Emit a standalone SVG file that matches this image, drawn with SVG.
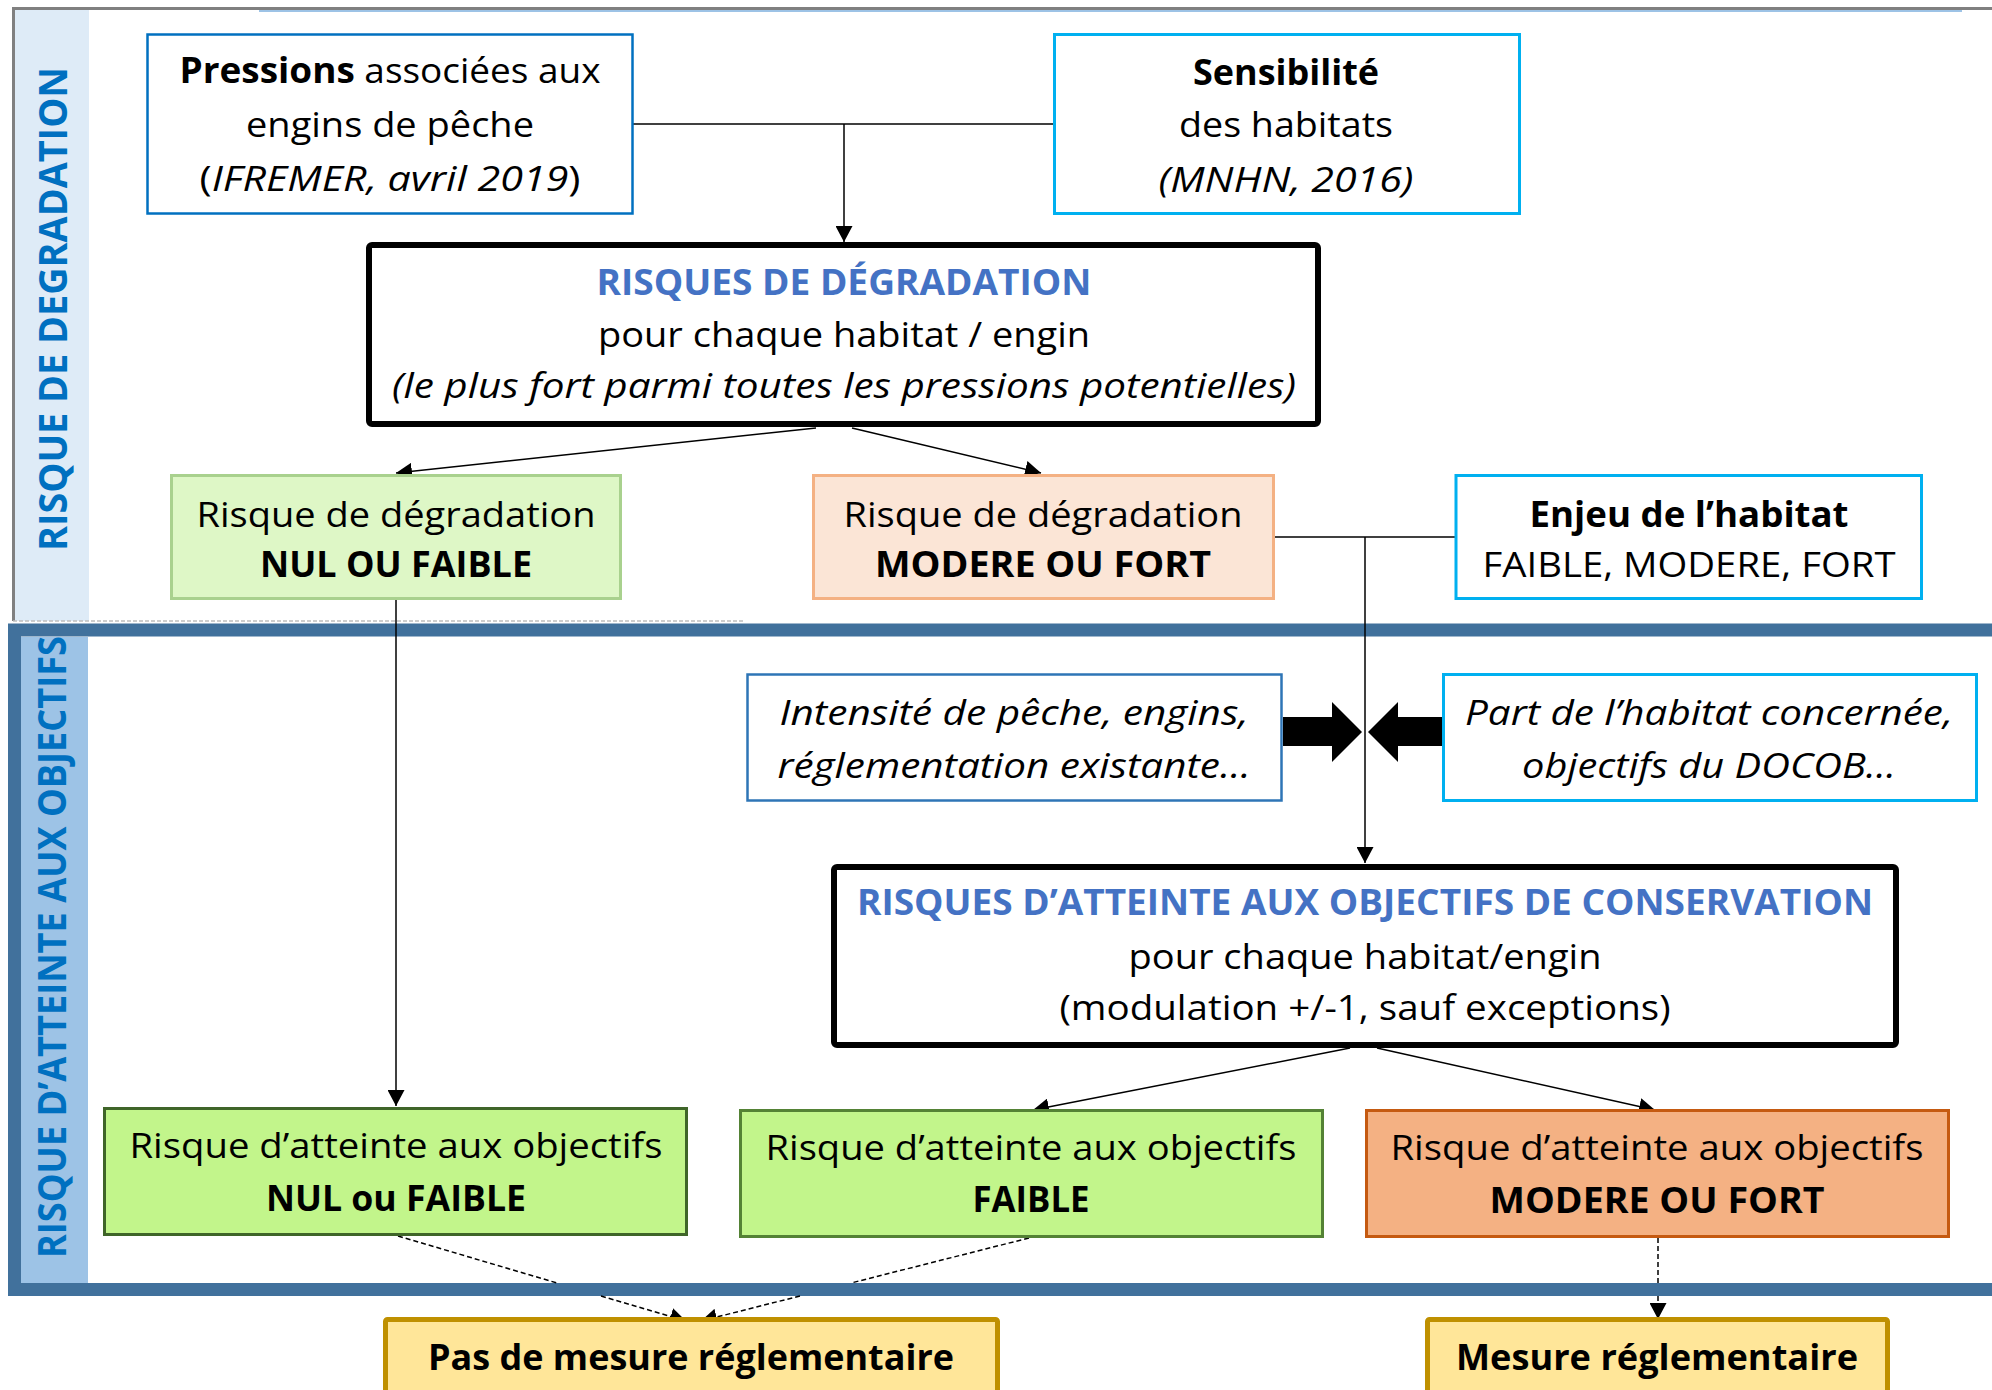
<svg xmlns="http://www.w3.org/2000/svg" width="1992" height="1390" viewBox="0 0 1992 1390">
<style>
text{font-family:"Open Sans","Noto Sans","Liberation Sans",sans-serif;font-size:35px;fill:#000;text-anchor:middle}
.b{font-weight:bold}
.i{font-style:italic}
.t{font-weight:bold;fill:#4472C4}
.lbl{font-family:"Open Sans","DejaVu Sans",sans-serif;font-weight:bold;font-size:39px;fill:#0070C0}
.ln{fill:none;stroke:#000;stroke-width:1.5}
.dl{fill:none;stroke:#000;stroke-width:1.5;stroke-dasharray:5 3}
.bx{stroke-width:3}
</style>
<defs>
<marker id="ah" markerUnits="userSpaceOnUse" markerWidth="17" markerHeight="17" refX="16" refY="8.5" orient="auto">
<path d="M0,0 L16,8.5 L0,17 z" fill="#000"/>
</marker>
</defs>
<rect width="1992" height="1390" fill="#fff"/>
<g id="section-degradation">
<rect x="14" y="10" width="75" height="611" fill="#DEEBF7"/>
<path d="M2010 8.5 H13.5 V621" fill="none" stroke="#808080" stroke-width="3"/>
<line x1="259" y1="11" x2="1962" y2="11" stroke="#9DC3E6" stroke-width="2"/>
<line x1="13" y1="621" x2="745" y2="621" stroke="#BFBFBF" stroke-width="1.5" stroke-dasharray="4 2"/>
<text class="lbl" transform="translate(67,309) rotate(-90)" textLength="484" lengthAdjust="spacingAndGlyphs">RISQUE DE DEGRADATION</text>
</g>
<g id="section-atteinte">
<rect x="21" y="637" width="67" height="646" fill="#9DC3E6"/>
<path d="M2010 630 H14.5 V1289.5 H2010" fill="none" stroke="#41719C" stroke-width="13"/>
<text class="lbl" transform="translate(66,947) rotate(-90)" textLength="622" lengthAdjust="spacingAndGlyphs">RISQUE D’ATTEINTE AUX OBJECTIFS</text>
</g>
<g id="connectors">
<path class="ln" d="M633 124 H1053"/>
<path class="ln" d="M844 124 V242" marker-end="url(#ah)"/>
<path class="ln" d="M816 428 L396 473" marker-end="url(#ah)"/>
<path class="ln" d="M852 428 L1041 473" marker-end="url(#ah)"/>
<path class="ln" d="M1275 537 H1455"/>
<path class="ln" d="M1365 537 V863" marker-end="url(#ah)"/>
<path class="ln" d="M396 600 V1106" marker-end="url(#ah)"/>
<path class="ln" d="M1350 1048 L1033 1110" marker-end="url(#ah)"/>
<path class="ln" d="M1377 1048 L1655 1110" marker-end="url(#ah)"/>
<path class="dl" d="M398 1236 L557 1283 M601 1296 L686 1321" marker-end="url(#ah)"/>
<path class="dl" d="M1029 1238 L851 1283 M800 1296 L701 1321" marker-end="url(#ah)"/>
<path class="dl" d="M1658 1238 V1283 M1658 1296 V1319" stroke-dasharray="8 5" marker-end="url(#ah)"/>
<polygon points="1283,717 1332,717 1332,702 1362,732 1332,762 1332,746 1283,746" fill="#000"/>
<polygon points="1443,717 1398,717 1398,702 1368,732 1398,762 1398,746 1443,746" fill="#000"/>
</g>
<g id="node-pressions">
<rect x="147.5" y="34.5" width="485" height="179" fill="#fff" stroke="#0070C0" stroke-width="2.5"/>
<text x="390" y="83" textLength="421" lengthAdjust="spacingAndGlyphs"><tspan class="b">Pressions</tspan> associées aux</text>
<text x="390" y="137" textLength="288" lengthAdjust="spacingAndGlyphs">engins de pêche</text>
<text x="390" y="191" textLength="381" lengthAdjust="spacingAndGlyphs">(<tspan class="i">IFREMER, avril 2019</tspan>)</text>
</g>
<g id="node-sensibilite">
<rect x="1054.5" y="34.5" width="465" height="179" fill="#fff" stroke="#00B0F0" class="bx"/>
<text class="b" x="1286" y="85" textLength="186" lengthAdjust="spacingAndGlyphs">Sensibilité</text>
<text x="1286" y="137" textLength="214" lengthAdjust="spacingAndGlyphs">des habitats</text>
<text class="i" x="1286" y="192" textLength="255" lengthAdjust="spacingAndGlyphs">(MNHN, 2016)</text>
</g>
<g id="node-risques-degradation">
<rect x="369" y="245" width="949" height="179" rx="3" fill="#fff" stroke="#000" stroke-width="6"/>
<text class="t" x="844" y="295" textLength="495" lengthAdjust="spacingAndGlyphs">RISQUES DE DÉGRADATION</text>
<text x="844" y="347" textLength="492" lengthAdjust="spacingAndGlyphs">pour chaque habitat / engin</text>
<text class="i" x="844" y="398" textLength="904" lengthAdjust="spacingAndGlyphs">(le plus fort parmi toutes les pressions potentielles)</text>
</g>
<g id="node-degradation-nul">
<rect x="171.5" y="475.5" width="449" height="123" fill="#DEF7C6" stroke="#A9D18E" class="bx"/>
<text x="396" y="527" textLength="399" lengthAdjust="spacingAndGlyphs">Risque de dégradation</text>
<text class="b" x="396" y="577" textLength="272" lengthAdjust="spacingAndGlyphs">NUL OU FAIBLE</text>
</g>
<g id="node-degradation-fort">
<rect x="813.5" y="475.5" width="460" height="123" fill="#FBE5D6" stroke="#F4B183" class="bx"/>
<text x="1043" y="527" textLength="399" lengthAdjust="spacingAndGlyphs">Risque de dégradation</text>
<text class="b" x="1043" y="577" textLength="336" lengthAdjust="spacingAndGlyphs">MODERE OU FORT</text>
</g>
<g id="node-enjeu">
<rect x="1456" y="475.5" width="465.5" height="123" fill="#fff" stroke="#00B0F0" class="bx"/>
<text class="b" x="1689" y="527" textLength="319" lengthAdjust="spacingAndGlyphs">Enjeu de l’habitat</text>
<text x="1689" y="577" textLength="413" lengthAdjust="spacingAndGlyphs">FAIBLE, MODERE, FORT</text>
</g>
<g id="node-intensite">
<rect x="747.5" y="674.5" width="534" height="126" fill="#fff" stroke="#2E75B6" stroke-width="2.5"/>
<text class="i" x="1014" y="725" textLength="469" lengthAdjust="spacingAndGlyphs">Intensité de pêche, engins,</text>
<text class="i" x="1014" y="778" textLength="473" lengthAdjust="spacingAndGlyphs">réglementation existante…</text>
</g>
<g id="node-part">
<rect x="1443.5" y="674.5" width="533" height="126" fill="#fff" stroke="#00B0F0" class="bx"/>
<text class="i" x="1709" y="725" textLength="488" lengthAdjust="spacingAndGlyphs">Part de l’habitat concernée,</text>
<text class="i" x="1709" y="778" textLength="374" lengthAdjust="spacingAndGlyphs">objectifs du DOCOB…</text>
</g>
<g id="node-risques-atteinte">
<rect x="834" y="867" width="1062" height="178" rx="3" fill="#fff" stroke="#000" stroke-width="6"/>
<text class="t" x="1365" y="915" textLength="1016" lengthAdjust="spacingAndGlyphs">RISQUES D’ATTEINTE AUX OBJECTIFS DE CONSERVATION</text>
<text x="1365" y="969" textLength="473" lengthAdjust="spacingAndGlyphs">pour chaque habitat/engin</text>
<text x="1365" y="1020" textLength="611" lengthAdjust="spacingAndGlyphs">(modulation +/-1, sauf exceptions)</text>
</g>
<g id="node-atteinte-nul">
<rect x="104.5" y="1108.5" width="582" height="126" fill="#C2F58B" stroke="#3F6529" class="bx"/>
<text x="396" y="1158" textLength="533" lengthAdjust="spacingAndGlyphs">Risque d’atteinte aux objectifs</text>
<text class="b" x="396" y="1211" textLength="260" lengthAdjust="spacingAndGlyphs">NUL ou FAIBLE</text>
</g>
<g id="node-atteinte-faible">
<rect x="740.5" y="1110.5" width="582" height="126" fill="#C2F58B" stroke="#548235" class="bx"/>
<text x="1031" y="1160" textLength="531" lengthAdjust="spacingAndGlyphs">Risque d’atteinte aux objectifs</text>
<text class="b" x="1031" y="1212" textLength="117" lengthAdjust="spacingAndGlyphs">FAIBLE</text>
</g>
<g id="node-atteinte-fort">
<rect x="1366.5" y="1110.5" width="582" height="126" fill="#F4B183" stroke="#C55A11" class="bx"/>
<text x="1657" y="1160" textLength="533" lengthAdjust="spacingAndGlyphs">Risque d’atteinte aux objectifs</text>
<text class="b" x="1657" y="1213" textLength="335" lengthAdjust="spacingAndGlyphs">MODERE OU FORT</text>
</g>
<g id="node-pas-de-mesure">
<rect x="385.5" y="1319.5" width="612" height="100" rx="2" fill="#FFE699" stroke="#BF9000" stroke-width="5"/>
<text class="b" x="691" y="1370" textLength="526" lengthAdjust="spacingAndGlyphs">Pas de mesure réglementaire</text>
</g>
<g id="node-mesure">
<rect x="1427.5" y="1319.5" width="460" height="100" rx="2" fill="#FFE699" stroke="#BF9000" stroke-width="5"/>
<text class="b" x="1657" y="1370" textLength="402" lengthAdjust="spacingAndGlyphs">Mesure réglementaire</text>
</g>
</svg>
